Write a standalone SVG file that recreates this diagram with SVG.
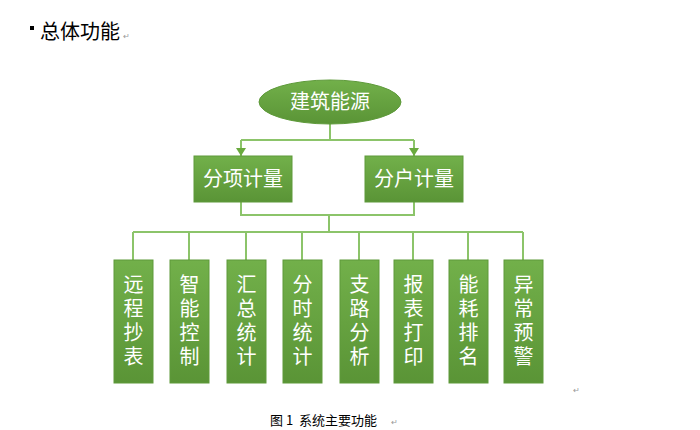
<svg xmlns="http://www.w3.org/2000/svg" width="700" height="430" viewBox="0 0 700 430">
<defs>
<linearGradient id="g" x1="0" y1="0" x2="0" y2="1"><stop offset="0" stop-color="#72b04a"/><stop offset="1" stop-color="#5a9436"/></linearGradient>
<marker id="a" markerWidth="8" markerHeight="10" refX="8" refY="5" orient="auto" markerUnits="userSpaceOnUse" viewBox="0 0 8 10"><path d="M0,0 L8,5 L0,10 Z" fill="#6aaa3e"/></marker>
</defs>
<style>
.n{fill:url(#g);stroke:#5e9a3a;stroke-width:1}
.t{font-family:"Noto Sans CJK SC",sans-serif;fill:#fff;text-anchor:middle}
.c{stroke:#8cc46a;stroke-width:2;fill:none}
</style>
<rect width="700" height="430" fill="#fff"/>
<rect x="30" y="26" width="4" height="4" fill="#000"/>
<text x="40" y="39" font-family="Noto Sans CJK SC,serif" font-size="20" fill="#000">总体功能</text>
<text x="123" y="39" font-family="Liberation Sans,sans-serif" font-size="8" fill="#999">↵</text>
<g id="connectors">
<path class="c" d="M330,124 V140 M241,140 H414" />
<path class="c" d="M241,140 V156" marker-end="url(#a)"/>
<path class="c" d="M414,140 V156" marker-end="url(#a)"/>
<path class="c" d="M241,202 V215 H414 V202 M329,215 V232 M133,232 H523"/>
<path class="c" d="M133,232V260M189,232V260M246,232V260M302,232V260M359,232V260M413,232V260M468,232V260M523,232V260"/>
</g>
<g id="root"><ellipse class="n" cx="330" cy="102" rx="71" ry="22"/><text class="t" x="330" y="109" font-size="20">建筑能源</text></g>
<g id="n1"><rect class="n" x="194" y="156" width="98" height="46"/><text class="t" x="243" y="186" font-size="20">分项计量</text></g>
<g id="n2"><rect class="n" x="365" y="156" width="98" height="46"/><text class="t" x="414" y="186" font-size="20">分户计量</text></g>
<g id="b1"><rect class="n" x="114" y="260" width="39" height="123"/><text class="t" font-size="20"><tspan x="133.5" y="292">远</tspan><tspan x="133.5" y="316">程</tspan><tspan x="133.5" y="340">抄</tspan><tspan x="133.5" y="364">表</tspan></text></g>
<g id="b2"><rect class="n" x="170" y="260" width="39" height="123"/><text class="t" font-size="20"><tspan x="189.5" y="292">智</tspan><tspan x="189.5" y="316">能</tspan><tspan x="189.5" y="340">控</tspan><tspan x="189.5" y="364">制</tspan></text></g>
<g id="b3"><rect class="n" x="227" y="260" width="39" height="123"/><text class="t" font-size="20"><tspan x="246.5" y="292">汇</tspan><tspan x="246.5" y="316">总</tspan><tspan x="246.5" y="340">统</tspan><tspan x="246.5" y="364">计</tspan></text></g>
<g id="b4"><rect class="n" x="283" y="260" width="39" height="123"/><text class="t" font-size="20"><tspan x="302.5" y="292">分</tspan><tspan x="302.5" y="316">时</tspan><tspan x="302.5" y="340">统</tspan><tspan x="302.5" y="364">计</tspan></text></g>
<g id="b5"><rect class="n" x="340" y="260" width="39" height="123"/><text class="t" font-size="20"><tspan x="359.5" y="292">支</tspan><tspan x="359.5" y="316">路</tspan><tspan x="359.5" y="340">分</tspan><tspan x="359.5" y="364">析</tspan></text></g>
<g id="b6"><rect class="n" x="394" y="260" width="39" height="123"/><text class="t" font-size="20"><tspan x="413.5" y="292">报</tspan><tspan x="413.5" y="316">表</tspan><tspan x="413.5" y="340">打</tspan><tspan x="413.5" y="364">印</tspan></text></g>
<g id="b7"><rect class="n" x="449" y="260" width="39" height="123"/><text class="t" font-size="20"><tspan x="468.5" y="292">能</tspan><tspan x="468.5" y="316">耗</tspan><tspan x="468.5" y="340">排</tspan><tspan x="468.5" y="364">名</tspan></text></g>
<g id="b8"><rect class="n" x="504" y="260" width="39" height="123"/><text class="t" font-size="20"><tspan x="523.5" y="292">异</tspan><tspan x="523.5" y="316">常</tspan><tspan x="523.5" y="340">预</tspan><tspan x="523.5" y="364">警</tspan></text></g>
<text x="573" y="393" font-family="Liberation Sans,sans-serif" font-size="8" fill="#999">↵</text>
<text x="270" y="425" font-family="Noto Sans CJK SC,serif" font-size="13" fill="#000" xml:space="preserve">图 1  系统主要功能</text>
<text x="391" y="425" font-family="Liberation Sans,sans-serif" font-size="8" fill="#999">↵</text>
</svg>
